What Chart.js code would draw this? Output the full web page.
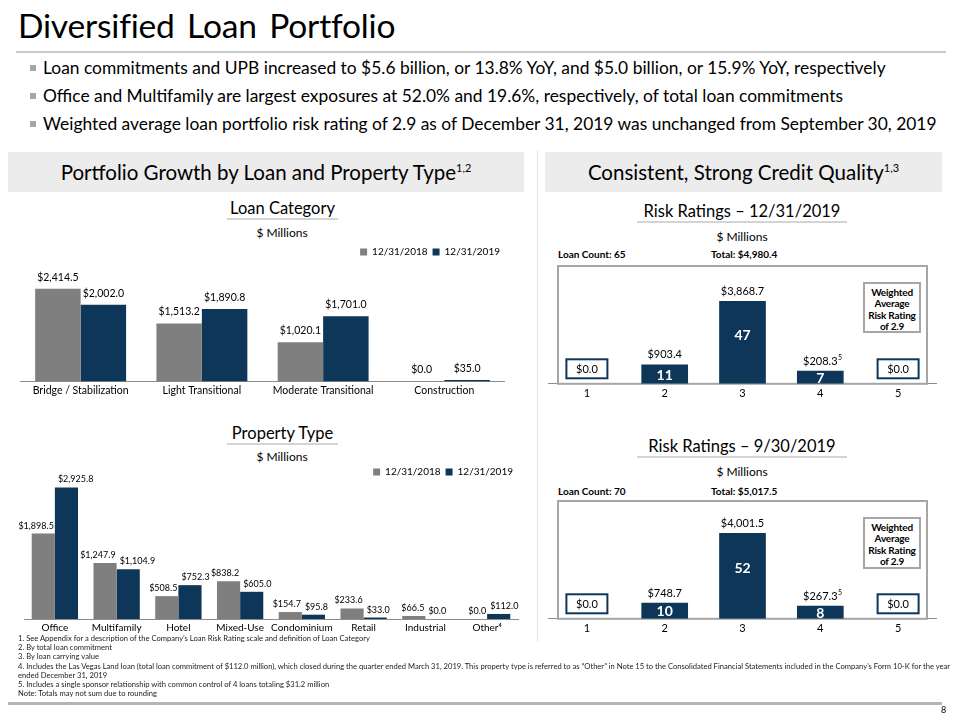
<!DOCTYPE html>
<html><head><meta charset="utf-8">
<script src="https://cdn.jsdelivr.net/npm/chart.js@4.4.1/dist/chart.umd.min.js"></script>
<style>
body{margin:0;width:960px;height:720px;position:relative;background:#fff;font-family:Lato,'Open Sans',sans-serif;overflow:hidden;color:#000}
.a{position:absolute;white-space:nowrap}
.title{left:18px;top:5px;font-size:33.6px;letter-spacing:-0.2px;word-spacing:4px}
.hr{position:absolute;background:#c8c8c8}
.bul{position:absolute;left:43px;font-size:17.4px;white-space:nowrap}
.bul:before{content:"";position:absolute;left:-13px;top:8px;width:6px;height:6px;background:#a6a6a6}
.sec{position:absolute;background:#ececec;text-align:center;font-size:20.5px;line-height:40px;height:40px;white-space:nowrap}
.sec sup{font-size:11px;vertical-align:super;line-height:0}
.ct{position:absolute;text-align:center;border-bottom:2px solid #d4d4d4;font-size:16.5px;line-height:20px;white-space:nowrap}
.mil{position:absolute;text-align:center;font-size:12px}
.cnt{position:absolute;font-size:10px;font-weight:bold}
.wbox{position:absolute;border:2px solid #a6a6a6;background:#fff;text-align:center;font-size:10px;font-weight:bold;line-height:11.3px;padding-top:3px;box-sizing:border-box;letter-spacing:-0.2px}
.foot{position:absolute;left:18px;font-size:7.6px;line-height:9.2px;top:634px;color:#222;white-space:nowrap}
canvas{position:absolute}
</style></head>
<body>
<div class="a title">Diversified Loan Portfolio</div>
<div class="hr" style="left:16px;top:51px;width:930px;height:2px"></div>
<div class="bul" style="top:57px">Loan commitments and UPB increased to $5.6 billion, or 13.8% YoY, and $5.0 billion, or 15.9% YoY, respectively</div>
<div class="bul" style="top:85px">Office and Multifamily are largest exposures at 52.0% and 19.6%, respectively, of total loan commitments</div>
<div class="bul" style="top:113px">Weighted average loan portfolio risk rating of 2.9 as of December 31, 2019 was unchanged from September 30, 2019</div>

<div class="sec" style="left:8px;top:152px;width:516px">Portfolio Growth by Loan and Property Type<sup>1,2</sup></div>
<div class="sec" style="left:545px;top:152px;width:397px">Consistent, Strong Credit Quality<sup>1,3</sup></div>
<div class="hr" style="left:537px;top:150px;width:1px;height:492px;background:#e2e2e2"></div>

<div class="ct" style="left:227px;top:198px;width:111px">Loan Category</div>
<div class="mil" style="left:182px;top:225px;width:200px">$ Millions</div>
<div class="ct" style="left:227px;top:423px;width:111px">Property Type</div>
<div class="mil" style="left:182px;top:449px;width:200px">$ Millions</div>

<div class="ct" style="left:637px;top:201px;width:210px">Risk Ratings – 12/31/2019</div>
<div class="mil" style="left:642px;top:229px;width:200px">$ Millions</div>
<div class="cnt" style="left:558px;top:248px">Loan Count: 65</div>
<div class="cnt" style="left:711px;top:248px">Total: $4,980.4</div>

<div class="ct" style="left:637px;top:436px;width:210px">Risk Ratings – 9/30/2019</div>
<div class="mil" style="left:642px;top:464px;width:200px">$ Millions</div>
<div class="cnt" style="left:558px;top:485px">Loan Count: 70</div>
<div class="cnt" style="left:711px;top:485px">Total: $5,017.5</div>

<canvas id="c1" width="485" height="158" style="left:20px;top:242px"></canvas>
<canvas id="c2" width="514" height="175" style="left:14px;top:462px"></canvas>
<canvas id="c3" width="389" height="139" style="left:548px;top:264px"></canvas>
<canvas id="c4" width="389" height="139" style="left:548px;top:499px"></canvas>

<div class="wbox" style="left:863px;top:282px;width:58px;height:51px">Weighted<br>Average<br>Risk Rating<br>of 2.9</div>
<div class="wbox" style="left:863px;top:517px;width:58px;height:52px">Weighted<br>Average<br>Risk Rating<br>of 2.9</div>

<div class="foot">1. See Appendix for a description of the Company’s Loan Risk Rating scale and definition of Loan Category<br>2. By total loan commitment<br>3. By loan carrying value<br>4. Includes the Las Vegas Land loan (total loan commitment of $112.0 million), which closed during the quarter ended March 31, 2019. This property type is referred to as “Other” in Note 15 to the Consolidated Financial Statements included in the Company’s Form 10-K for the year<br>ended December 31, 2019<br>5. Includes a single sponsor relationship with common control of 4 loans totaling $31.2 million<br>Note: Totals may not sum due to rounding</div>
<div class="hr" style="left:8px;top:702px;width:934px;height:3px;background:#b4b4b4"></div>
<div class="a" style="left:941px;top:704px;font-size:9px">8</div>

<script>
// ---- data ----
const seriesLabels = ['12/31/2018', '12/31/2019'];
const loanCategories = ['Bridge / Stabilization', 'Light Transitional', 'Moderate Transitional', 'Construction'];
const loan2018 = [2414.5, 1513.2, 1020.1, 0.0];
const loan2019 = [2002.0, 1890.8, 1701.0, 35.0];
const propertyTypes = ['Office', 'Multifamily', 'Hotel', 'Mixed-Use', 'Condominium', 'Retail', 'Industrial', 'Other⁴'];
const property2018 = [1898.5, 1247.9, 508.5, 838.2, 154.7, 233.6, 66.5, 0.0];
const property2019 = [2925.8, 1104.9, 752.3, 605.0, 95.8, 33.0, 0.0, 112.0];
const riskRatings = ['1', '2', '3', '4', '5'];
const riskValuesDec = [0.0, 903.4, 3868.7, 208.3, 0.0];
const riskCountsDec = [0, 11, 47, 7, 0];
const riskValuesSep = [0.0, 748.7, 4001.5, 267.3, 0.0];
const riskCountsSep = [0, 10, 52, 8, 0];
const riskNotes = ['', '', '', '5', ''];

const GRAY = '#7f7f7f', NAVY = '#0e3658';
const FONT = 'Lato, "Open Sans", sans-serif';
const fmt = v => '$' + v.toLocaleString('en-US', {minimumFractionDigits: 1, maximumFractionDigits: 1});

const barLabels = {
  id: 'barLabels',
  afterDatasetsDraw(chart, args, opts) {
    const ctx = chart.ctx;
    const base = chart.chartArea.bottom;
    chart.data.datasets.forEach((ds, di) => {
      const meta = chart.getDatasetMeta(di);
      meta.data.forEach((bar, i) => {
        const v = ds.data[i];
        ctx.save();
        ctx.font = opts.size + 'px ' + FONT;
        ctx.fillStyle = '#000';
        ctx.textBaseline = 'alphabetic';
        if (opts.mode === 'risk') {
          const cx = bar.x;
          if (v === 0) {
            const w = 41, h = 19, cy = base - 15;
            ctx.fillStyle = '#fff';
            ctx.fillRect(cx - w / 2, cy - h / 2, w, h);
            ctx.strokeStyle = NAVY; ctx.lineWidth = 2;
            ctx.strokeRect(cx - w / 2, cy - h / 2, w, h);
            ctx.fillStyle = '#000'; ctx.textAlign = 'center'; ctx.textBaseline = 'middle';
            ctx.fillText(fmt(v), cx, cy + 1);
          } else {
            ctx.textAlign = 'center';
            const t = fmt(v);
            ctx.fillText(t, cx, bar.y - 6);
            const note = opts.notes[i];
            if (note) {
              const tw = ctx.measureText(t).width;
              ctx.font = '7px ' + FONT; ctx.textAlign = 'left';
              ctx.fillText(note, cx + tw / 2 + 0.5, bar.y - 11);
            }
            const c = opts.counts[i];
            ctx.font = 'bold 14px ' + FONT; ctx.fillStyle = '#fff';
            ctx.textAlign = 'center'; ctx.textBaseline = 'middle';
            const h = base - bar.y;
            const cy = h > 40 ? base - h / 2 - 8 : base - h / 2;
            ctx.fillText(String(c), cx, cy + 1);
          }
        } else if (opts.mode === 'split') {
          if (di === 0) { ctx.textAlign = 'right'; ctx.fillText(fmt(v), bar.x + bar.width / 2 - 1, bar.y - 5); }
          else { ctx.textAlign = 'left'; ctx.fillText(fmt(v), bar.x - bar.width / 2 + 3, bar.y - 5); }
        } else {
          ctx.textAlign = 'center';
          ctx.fillText(fmt(v), bar.x, bar.y - 8);
        }
        ctx.restore();
      });
    });
  }
};

const riskFrame = {
  id: 'riskFrame',
  beforeDatasetsDraw(chart) {
    const a = chart.chartArea, ctx = chart.ctx;
    ctx.save();
    ctx.strokeStyle = '#a6a6a6'; ctx.lineWidth = 2;
    ctx.strokeRect(a.left + 10, a.top, a.right - a.left - 20, a.bottom - a.top);
    ctx.restore();
  }
};

function groupChart(id, labels, d1, d2, max, mode, size, tickSize, pad) {
  return new Chart(document.getElementById(id), {
    type: 'bar',
    data: { labels, datasets: [
      { label: seriesLabels[0], data: d1, backgroundColor: GRAY },
      { label: seriesLabels[1], data: d2, backgroundColor: NAVY } ] },
    options: {
      animation: false, responsive: false, devicePixelRatio: 1,
      datasets: { bar: { categoryPercentage: 0.75, barPercentage: 1 } },
      layout: { padding: { left: pad, right: pad } },
      plugins: {
        tooltip: { enabled: false },
        legend: { align: 'end', labels: { boxWidth: 7, boxHeight: 7, padding: 5, color: '#000', font: { family: FONT, size: 10 } } },
        barLabels: { mode, size }
      },
      scales: {
        x: { grid: { display: false, drawTicks: false }, border: { color: '#8c8c8c' },
             ticks: { color: '#000', padding: 3, autoSkip: false, maxRotation: 0, minRotation: 0, font: { family: FONT, size: tickSize } } },
        y: { display: false, min: 0, max }
      }
    },
    plugins: [barLabels]
  });
}

function riskChart(id, values, counts, max) {
  return new Chart(document.getElementById(id), {
    type: 'bar',
    data: { labels: riskRatings, datasets: [{ data: values,
      backgroundColor: values.map(v => v === 0 ? 'rgba(0,0,0,0)' : NAVY), minBarLength: 13 }] },
    options: {
      animation: false, responsive: false, devicePixelRatio: 1,
      datasets: { bar: { categoryPercentage: 0.6, barPercentage: 1 } },
      layout: { padding: { top: 2 } },
      plugins: { tooltip: { enabled: false }, legend: { display: false },
        barLabels: { mode: 'risk', size: 11, counts, notes: riskNotes } },
      scales: {
        x: { grid: { display: false, drawTicks: false }, border: { color: '#8c8c8c', width: 1 },
             ticks: { color: '#000', padding: 3, font: { family: FONT, size: 11 } } },
        y: { display: false, min: 0, max }
      }
    },
    plugins: [riskFrame, barLabels]
  });
}

groupChart('c1', loanCategories, loan2018, loan2019, 2985, 'center', 10.5, 10.5, 0);
groupChart('c2', propertyTypes, property2018, property2019, 2935, 'split', 9, 10, 10);
riskChart('c3', riskValuesDec, riskCountsDec, 5500);
riskChart('c4', riskValuesSep, riskCountsSep, 5500);
</script>
</body></html>
